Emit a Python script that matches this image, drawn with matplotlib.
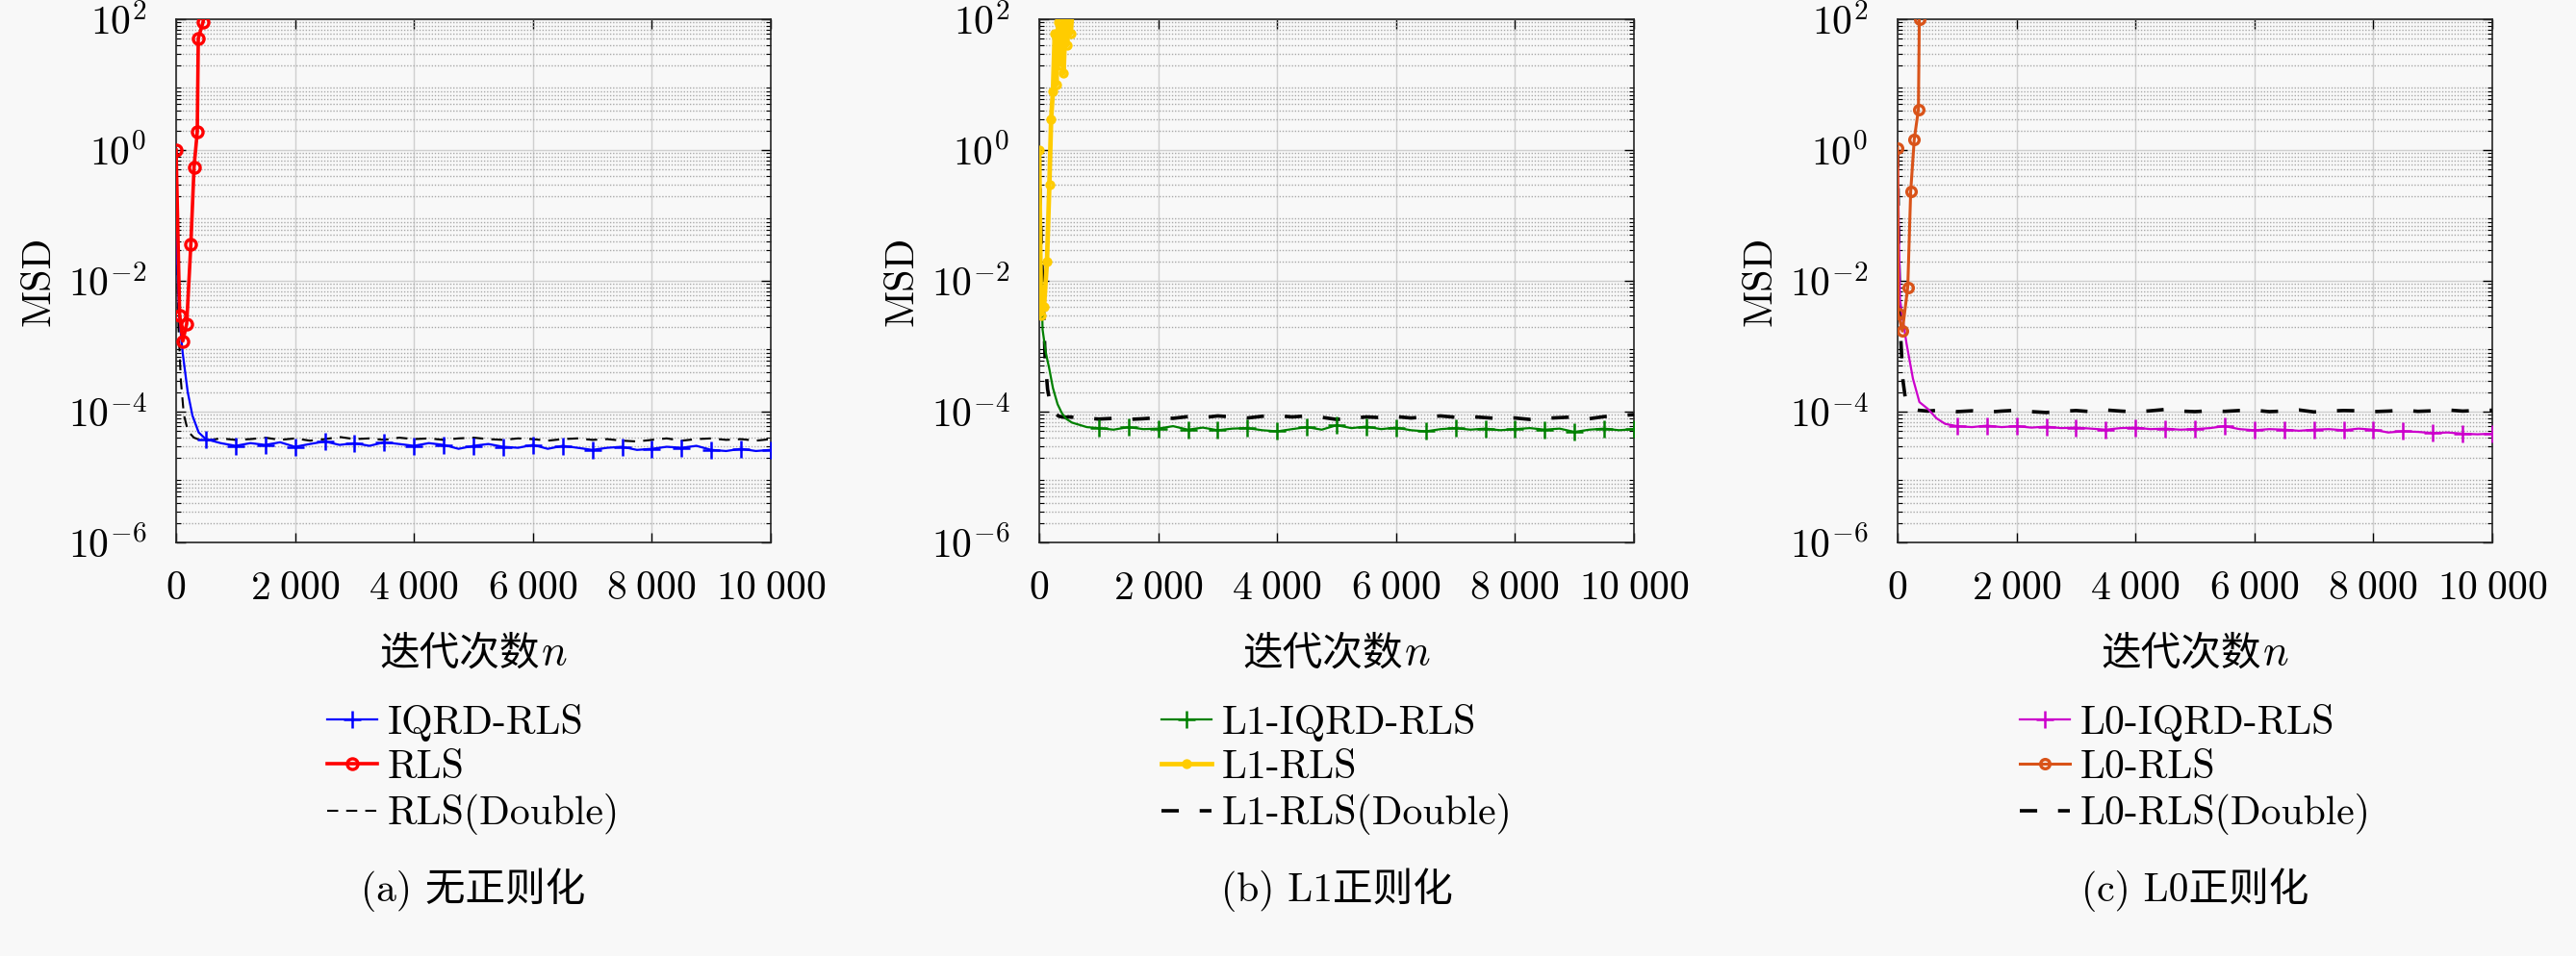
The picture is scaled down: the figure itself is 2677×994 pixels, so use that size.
import numpy as np
import matplotlib
matplotlib.use('Agg')
import matplotlib.pyplot as plt
from matplotlib.ticker import LogLocator, NullFormatter
from matplotlib.offsetbox import TextArea, HPacker, AnchoredOffsetbox

plt.rcParams['font.family'] = ['cmr10', 'Noto Sans CJK SC']
plt.rcParams['mathtext.fontset'] = 'cm'
plt.rcParams['axes.unicode_minus'] = False
plt.rcParams['axes.formatter.use_mathtext'] = True

FS = 30
BG = '#f8f8f8'

# ---------------- data ----------------
steady_500 = list(range(500, 10001, 250))    # 39 points
steady_1000 = list(range(1000, 10001, 250))  # 37 points

# (a) no regularisation
a_iqrd_n = [0, 20, 50, 110, 195, 275, 380] + steady_500
a_iqrd_v = [1.0, 2e-2, 3e-3, 8e-4, 2e-4, 8.7e-5, 4.8e-5,
            3.8e-5, 3.3e-5, 3.0e-5, 3.3e-5, 3.1e-5, 3.4e-5, 2.9e-5, 3.2e-5, 3.5e-5, 3.1e-5,
            3.3e-5, 3.0e-5, 3.4e-5, 3.2e-5, 3.0e-5, 3.3e-5, 3.1e-5, 2.7e-5, 3.0e-5, 3.2e-5,
            2.9e-5, 2.8e-5, 3.1e-5, 2.7e-5, 3.0e-5, 2.8e-5, 2.6e-5, 2.8e-5, 2.9e-5, 2.6e-5,
            2.7e-5, 2.9e-5, 2.8e-5, 3.0e-5, 2.6e-5, 2.5e-5, 2.7e-5, 2.5e-5, 2.6e-5]
a_rls_n = [0, 60, 113, 178, 248, 302, 356, 373, 454, 520]
a_rls_v = [1.0, 3e-3, 1.2e-3, 2.2e-3, 3.6e-2, 0.55, 1.9, 51, 91, 300]
a_dbl_n = [0, 15, 40, 80, 130, 200, 300, 400] + steady_500
a_dbl_v = [1.0, 3e-2, 2e-3, 3e-4, 9e-5, 5e-5, 4e-5, 3.7e-5,
           3.6e-5, 3.9e-5, 3.7e-5, 3.8e-5, 4.0e-5, 3.7e-5, 3.9e-5, 3.6e-5, 3.8e-5, 4.1e-5,
           3.8e-5, 3.9e-5, 3.7e-5, 4.0e-5, 3.8e-5, 3.9e-5, 3.7e-5, 3.9e-5, 4.0e-5, 3.8e-5,
           3.7e-5, 3.9e-5, 3.8e-5, 3.6e-5, 3.8e-5, 3.9e-5, 3.7e-5, 3.8e-5, 3.6e-5, 3.5e-5,
           3.7e-5, 3.9e-5, 3.6e-5, 3.8e-5, 3.9e-5, 3.7e-5, 3.8e-5, 3.6e-5, 3.8e-5]

# (b) L1 regularisation
b_iqrd_n = [0, 20, 56, 110, 165, 230, 308, 380, 450, 550, 670, 800] + steady_1000
b_iqrd_v = [1.0, 4e-2, 1.8e-3, 8e-4, 4.7e-4, 2.3e-4, 1.3e-4, 9.5e-5, 7.8e-5, 6.8e-5, 6.3e-5, 5.8e-5,
            5.6e-5, 5.3e-5, 5.8e-5, 5.4e-5, 5.5e-5, 6.0e-5, 5.3e-5, 5.7e-5, 5.2e-5, 5.5e-5,
            5.6e-5, 5.2e-5, 5.0e-5, 5.4e-5, 5.8e-5, 5.3e-5, 6.2e-5, 5.6e-5, 5.9e-5, 5.4e-5,
            5.7e-5, 5.2e-5, 5.0e-5, 5.4e-5, 5.6e-5, 5.3e-5, 5.5e-5, 5.2e-5, 5.4e-5, 5.6e-5,
            5.3e-5, 5.5e-5, 4.9e-5, 5.3e-5, 5.5e-5, 5.2e-5, 5.4e-5]
b_rls_n = [0, 30, 80, 130, 170, 200, 230, 260, 290, 320, 350, 380, 410, 440, 470, 500, 530, 560]
b_rls_v = [1.0, 3e-3, 4e-3, 2e-2, 0.3, 3, 8, 60, 10, 90, 20, 80, 15, 100, 40, 120, 60, 150]
b_dbl_n = [0, 30, 70, 100, 140, 200, 260, 330, 420] + steady_500
b_dbl_v = [1.0, 5e-2, 4e-3, 6e-4, 2.2e-4, 1.1e-4, 9.5e-5, 8.5e-5, 8.2e-5,
           8.3e-5, 8.0e-5, 7.7e-5, 7.9e-5, 7.6e-5, 7.8e-5, 8.1e-5, 7.9e-5, 8.4e-5, 8.1e-5,
           8.6e-5, 8.3e-5, 8.0e-5, 8.5e-5, 8.7e-5, 8.3e-5, 8.6e-5, 8.2e-5, 7.6e-5, 7.9e-5,
           8.3e-5, 8.1e-5, 8.4e-5, 8.0e-5, 8.3e-5, 8.6e-5, 8.2e-5, 8.4e-5, 8.1e-5, 7.8e-5,
           8.0e-5, 7.6e-5, 7.9e-5, 8.1e-5, 8.3e-5, 7.8e-5, 8.4e-5, 8.7e-5, 9.0e-5]

# (c) L0 regularisation
c_iqrd_n = [0, 40, 150, 258, 367, 510, 655, 800] + steady_1000
c_iqrd_v = [1.0, 5e-3, 1.1e-3, 3.2e-4, 1.4e-4, 1.1e-4, 7.9e-5, 6.5e-5,
            6.0e-5, 5.8e-5, 6.1e-5, 5.8e-5, 6.0e-5, 5.7e-5, 5.9e-5, 5.6e-5, 5.7e-5, 5.5e-5,
            5.3e-5, 5.6e-5, 5.7e-5, 5.4e-5, 5.5e-5, 5.3e-5, 5.4e-5, 5.6e-5, 6.0e-5, 5.4e-5,
            5.2e-5, 5.4e-5, 5.3e-5, 5.1e-5, 5.3e-5, 5.4e-5, 5.2e-5, 5.5e-5, 5.3e-5, 4.8e-5,
            5.0e-5, 4.9e-5, 4.7e-5, 4.8e-5, 4.6e-5, 4.5e-5, 4.6e-5]
c_rls_n = [0, 10, 80, 171, 220, 280, 350, 365, 400]
c_rls_v = [1.07, 3.2e-3, 1.7e-3, 8e-3, 0.23, 1.45, 4.2, 100, 400]
c_dbl_n = [0, 20, 50, 90, 130, 180, 250, 350] + steady_500
c_dbl_v = [1.0, 2e-2, 1.5e-3, 3e-4, 1.6e-4, 1.2e-4, 1.1e-4, 1.05e-4,
           1.02e-4, 1.06e-4, 1.0e-4, 1.03e-4, 0.98e-4, 1.02e-4, 1.05e-4, 1.0e-4, 0.97e-4, 1.01e-4,
           1.04e-4, 1.0e-4, 1.06e-4, 1.02e-4, 0.99e-4, 1.03e-4, 1.08e-4, 1.02e-4, 1.0e-4, 1.03e-4,
           1.01e-4, 1.04e-4, 1.05e-4, 1.0e-4, 1.02e-4, 1.06e-4, 0.99e-4, 1.02e-4, 1.04e-4, 1.03e-4,
           1.0e-4, 1.02e-4, 1.05e-4, 1.01e-4, 1.03e-4, 1.06e-4, 1.02e-4, 1.04e-4, 1.05e-4]

x_ticks = [0, 2000, 4000, 6000, 8000, 10000]
x_ticklabels = ['$0$', r'$2\;000$', r'$4\;000$', r'$6\;000$', r'$8\;000$', r'$10\;000$']
y_ticks = [1e-6, 1e-4, 1e-2, 1e0, 1e2]
y_ticklabels = ['$10^{-6}$', '$10^{-4}$', '$10^{-2}$', '$10^{0}$', '$10^{2}$']

panels = [
    dict(caption='(a) 无正则化',
         iqrd=(a_iqrd_n, a_iqrd_v, 'IQRD-RLS', '#0000ff', 1.6),
         rls=(a_rls_n, a_rls_v, 'RLS', '#ff0000', 2.6, 8),
         dbl=(a_dbl_n, a_dbl_v, 'RLS(Double)', 1.5, (5.5, 4))),
    dict(caption='(b) L1正则化',
         iqrd=(b_iqrd_n, b_iqrd_v, 'L1-IQRD-RLS', '#008000', 1.6),
         rls=(b_rls_n, b_rls_v, 'L1-RLS', '#ffcc00', 3.4, 5),
         dbl=(b_dbl_n, b_dbl_v, 'L1-RLS(Double)', 2.6, (5, 6))),
    dict(caption='(c) L0正则化',
         iqrd=(c_iqrd_n, c_iqrd_v, 'L0-IQRD-RLS', '#cc00cc', 1.6),
         rls=(c_rls_n, c_rls_v, 'L0-RLS', '#d95319', 2.2, 7),
         dbl=(c_dbl_n, c_dbl_v, 'L0-RLS(Double)', 2.6, (5, 6))),
]

lefts = [183 / 2677, 1080 / 2677, 1972 / 2677]
ax_w = 618 / 2677
ax_b = 1 - 564 / 994
ax_h = 544 / 994

fig = plt.figure(figsize=(26.77, 9.94), dpi=100, facecolor=BG)

for k, p in enumerate(panels):
    ax = fig.add_axes([lefts[k], ax_b, ax_w, ax_h], facecolor=BG)
    ax.set_yscale('log')

    # IQRD variant, '+' markers every 500 iterations
    n, v, lab, col, lw = p['iqrd']
    marks = [i for i, t in enumerate(n) if t >= 500 and t % 500 == 0]
    ax.plot(n, v, color=col, lw=lw, marker='+', markevery=marks, ms=13, mew=1.8,
            label=lab, zorder=4)
    # plain RLS (diverging)
    n, v, lab, col, lw, ms = p['rls']
    ax.plot(n, v, color=col, lw=lw, marker='o', ms=ms, mew=2.4, mfc='none',
            label=lab, zorder=5)
    # double precision reference
    n, v, lab, lw, dash = p['dbl']
    ax.plot(n, v, color='black', lw=lw, ls=(0, dash), label=lab, zorder=3)

    ax.set_xlim(0, 10000)
    ax.set_ylim(1e-6, 1e2)
    ax.set_xticks(x_ticks)
    ax.set_xticklabels(x_ticklabels)
    ax.set_yticks(y_ticks)
    ax.set_yticklabels(y_ticklabels)
    ax.yaxis.set_minor_locator(LogLocator(base=10, subs=np.arange(2, 10), numticks=20))
    ax.yaxis.set_minor_formatter(NullFormatter())

    ax.tick_params(which='both', direction='in', top=True, right=True, labelsize=FS)
    ax.tick_params(axis='x', which='major', length=7, width=1.0, pad=21)
    ax.tick_params(axis='y', which='major', length=7, width=1.0, pad=22)
    ax.tick_params(which='minor', length=3.5, width=0.8)
    for s in ax.spines.values():
        s.set_color('#262626')
        s.set_linewidth(1.2)

    ax.set_axisbelow(True)
    ax.grid(which='major', color='#cfcfcf', lw=1.0, ls='-')
    ax.grid(which='minor', axis='y', color='#a8a8a8', lw=1.0, ls=(0, (1, 1.3)))

    ax.set_ylabel('MSD', fontsize=FS, labelpad=8)

    # x label: Chinese text followed by italic n
    lab_box = HPacker(children=[
        TextArea('迭代次数', textprops=dict(family='Noto Sans CJK SC', size=FS)),
        TextArea('$n$', textprops=dict(size=FS + 2)),
    ], pad=0, sep=1, align='baseline')
    anch = AnchoredOffsetbox(loc='center', child=lab_box, frameon=False, pad=0, borderpad=0,
                             bbox_to_anchor=(0.5, -(680 - 564) / 544),
                             bbox_transform=ax.transAxes)
    ax.add_artist(anch)

    ax.legend(loc='upper center', bbox_to_anchor=(0.5, -(732 - 564) / 544), frameon=False,
              fontsize=FS, handlelength=1.25, handletextpad=0.25, labelspacing=0.2,
              borderpad=0, borderaxespad=0)

    fig.text(lefts[k] + ax_w / 2, 1 - 925 / 994, p['caption'], fontsize=FS,
             ha='center', va='center')

fig.savefig('out.png', dpi=100, facecolor=BG)
